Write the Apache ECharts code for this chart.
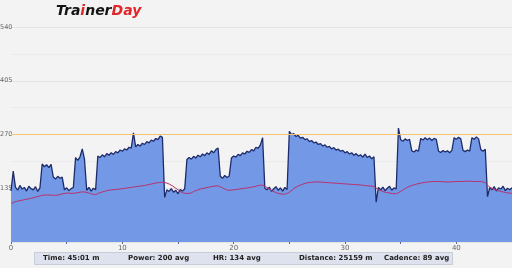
<!DOCTYPE html>
<html><head><meta charset="utf-8">
<script src="https://cdn.jsdelivr.net/npm/echarts@6/dist/echarts.min.js"></script>
<style>html,body{margin:0;padding:0;background:#f3f3f3}#c{width:512px;height:268px}</style>
</head><body><div id="c"></div>
<script>
// Power samples every 0.2 min (12 s)
const powerStep = 0.2;
const power = [
128,178,138,130,142,133,137,128,140,134,131,139,127,136,
196,189,194,187,195,
163,158,165,160,163,
131,136,129,134,137,
212,205,214,234,208,
130,137,128,135,131,
216,212,219,214,222,218,224,220,227,224,231,228,234,231,238,236,274,239,245,241,248,245,252,249,256,253,260,257,266,263,
112,131,127,134,125,130,121,132,128,133,
207,212,208,215,211,218,214,221,217,224,220,229,224,232,236,
165,160,167,162,166,
211,216,213,220,217,224,221,228,225,232,229,238,235,244,262,
135,131,138,127,134,139,130,136,128,137,132,
278,270,272,265,268,261,263,257,259,252,255,249,251,245,247,241,244,238,240,234,237,231,233,228,230,224,227,221,224,218,222,216,219,213,221,212,216,209,214,
100,137,131,138,129,135,140,130,136,133,
286,257,253,259,255,258,
229,226,231,228,
260,256,262,257,261,255,260,258,
228,225,230,226,229,224,230,
262,258,263,259,
230,227,231,228,
262,258,264,259,
232,228,233,
114,137,131,139,128,136,133,140,129,135,131,136
];
// Heart rate every 0.5 min
const hrStep = 0.5;
const hr = [
97,102,105,108,111,115,118,118,117,120,123,122,124,126,123,119,124,128,131,132,
134,136,138,140,142,145,148,150,148,141,131,123,122,128,133,136,139,141,136,130,
131,133,135,137,140,143,137,128,122,120,125,136,143,148,150,151,150,149,148,147,
146,145,144,143,141,140,132,126,123,121,127,136,142,146,149,151,152,152,151,151,
152,152,153,152,152,150,138,131,127,124,122
];
const ftp = 270;
const summary = ['Time: 45:01 m', 'Power: 200 avg', 'HR: 134 avg', 'Distance: 25159 m', 'Cadence: 89 avg'];

const chart = echarts.init(document.getElementById('c'), null, {renderer: 'canvas'});
const powerData = power.map((v, i) => [+(i * powerStep).toFixed(2), v]);
const hrData = hr.map((v, i) => [i * hrStep, v]);
const summaryX = [43, 128, 213, 299, 384];

chart.setOption({
  backgroundColor: '#f3f3f3',
  animation: false,
  grid: {left: 11, right: 0, top: 27, bottom: 26, containLabel: false, outerBoundsMode: 'none'},
  xAxis: {
    type: 'value', min: 0, max: 45, interval: 5,
    axisLine: {show: false},
    axisTick: {show: true, length: 2, lineStyle: {color: '#5a6a90'}},
    axisLabel: {fontSize: 7, color: '#666', margin: 3, fontFamily: 'DejaVu Sans',
      formatter: v => (v % 10 === 0 ? String(v) : '')},
    splitLine: {show: false}
  },
  yAxis: {
    type: 'value', min: 0, max: 540, interval: 135,
    axisLine: {show: false}, axisTick: {show: false},
    axisLabel: {fontSize: 6.5, color: '#666', margin: 11, align: 'left', fontFamily: 'DejaVu Sans',
      formatter: v => (v === 0 ? '' : String(v))},
    splitLine: {show: true, lineStyle: {color: '#e4e4e4', width: 1}},
    minorTick: {show: false, splitNumber: 2},
    minorSplitLine: {show: true, lineStyle: {color: '#ebebeb', width: 1}}
  },
  series: [
    {
      type: 'line', data: powerData, symbol: 'none', z: 2,
      lineStyle: {color: '#1d2b6b', width: 1.3},
      areaStyle: {color: '#7399e6', opacity: 1},
      markLine: {
        silent: true, symbol: 'none', label: {show: false},
        lineStyle: {color: '#f5c46e', width: 1, type: 'solid'},
        data: [{yAxis: ftp}]
      }
    },
    {
      type: 'line', data: hrData, symbol: 'none', z: 3, smooth: 0.3,
      lineStyle: {color: '#b8306c', width: 1}
    }
  ],
  graphic: [
    {type: 'text', left: 56, top: 4, style: {
      text: '{a|Tra}{b|i}{a|ner}{b|Day}',
      rich: {
        a: {fontSize: 14, fontWeight: 900, fontStyle: 'italic', fontFamily: 'DejaVu Sans', fill: '#141414'},
        b: {fontSize: 14, fontWeight: 900, fontStyle: 'italic', fontFamily: 'DejaVu Sans', fill: '#e0262a'}
      }}},
    {type: 'rect', shape: {x: 34.5, y: 252.5, width: 418, height: 12},
      style: {fill: '#dde2ee', stroke: '#c8cdda', lineWidth: 1}},
    ...summary.map((s, i) => ({type: 'text', x: summaryX[i], y: 258.5,
      style: {text: s, fontSize: 7, fontWeight: 'bold', fontFamily: 'DejaVu Sans', fill: '#222', verticalAlign: 'middle'}}))
  ]
});
</script></body></html>
